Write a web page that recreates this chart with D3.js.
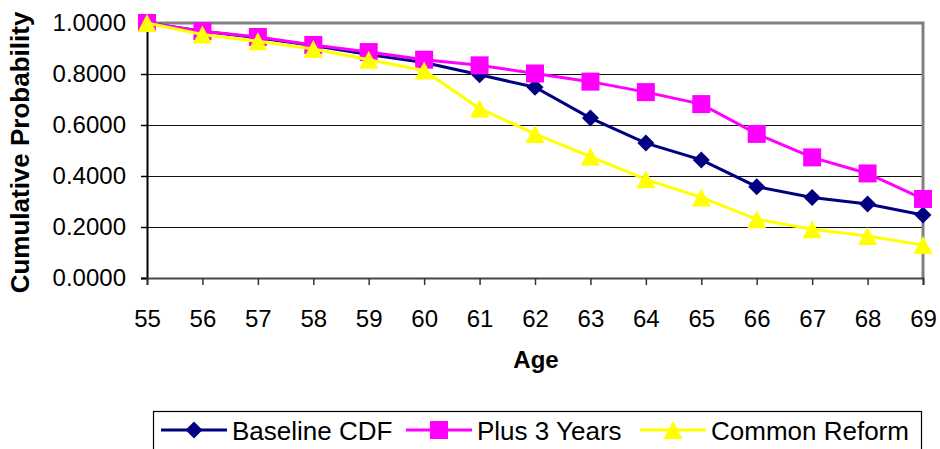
<!DOCTYPE html>
<html>
<head>
<meta charset="utf-8">
<script src="https://cdn.jsdelivr.net/npm/d3@7"></script>
<style>
  html, body { margin: 0; padding: 0; background: #fff; }
  svg { display: block; font-family: "Liberation Sans", Arial, sans-serif; }
</style>
</head>
<body>
<svg id="chart" width="940" height="449"></svg>
<script>
// Ages on the horizontal axis
const ages = [55, 56, 57, 58, 59, 60, 61, 62, 63, 64, 65, 66, 67, 68, 69];
// Cumulative probability by age for each scenario
const baselineCDF   = [1.000, 0.968, 0.942, 0.912, 0.876, 0.845, 0.797, 0.748, 0.627, 0.529, 0.463, 0.358, 0.316, 0.290, 0.247];
const plus3Years    = [1.000, 0.968, 0.945, 0.914, 0.886, 0.856, 0.834, 0.802, 0.770, 0.729, 0.682, 0.565, 0.473, 0.410, 0.310];
const commonReform  = [1.000, 0.955, 0.928, 0.898, 0.856, 0.814, 0.665, 0.565, 0.476, 0.387, 0.316, 0.230, 0.191, 0.165, 0.129];
const yTicks = [0, 0.2, 0.4, 0.6, 0.8, 1.0];

const series = [
  { name: "Baseline CDF",  values: baselineCDF,  color: "#000080", shape: "diamond" },
  { name: "Plus 3 Years",  values: plus3Years,   color: "#ff00ff", shape: "square" },
  { name: "Common Reform", values: commonReform, color: "#ffff00", shape: "triangle" }
];

const FONT = "Liberation Sans, Arial, sans-serif";
const svg = d3.select("#chart");
const plot = { left: 147, right: 923, top: 23, bottom: 278 };

const x = d3.scalePoint().domain(ages).range([plot.left, plot.right]);
const y = d3.scaleLinear().domain([0, 1]).range([plot.bottom, plot.top]);

// Horizontal gridlines
svg.append("g")
  .selectAll("line")
  .data(yTicks.filter(d => d > 0 && d < 1))
  .join("line")
  .attr("x1", plot.left).attr("x2", plot.right)
  .attr("y1", d => y(d) + 0.5).attr("y2", d => y(d) + 0.5)
  .attr("stroke", "#111").attr("stroke-width", 1.2);

// Plot frame: grey on top and right
svg.append("path")
  .attr("d", `M${plot.left},${plot.top} H${plot.right} V${plot.bottom}`)
  .attr("fill", "none").attr("stroke", "#808080").attr("stroke-width", 3);

// Y axis
const yAxis = svg.append("g")
  .attr("transform", `translate(${plot.left},0)`)
  .call(d3.axisLeft(y).tickValues(yTicks).tickFormat(d3.format(".4f")).tickSize(6).tickPadding(15));
yAxis.select(".domain").attr("stroke", "#000").attr("stroke-width", 2);
yAxis.selectAll(".tick line").attr("stroke", "#000").attr("stroke-width", 1.5);
yAxis.selectAll(".tick text").attr("font-size", 24).attr("fill", "#000").attr("font-family", FONT);

// X axis
const xAxis = svg.append("g")
  .attr("transform", `translate(0,${plot.bottom})`)
  .call(d3.axisBottom(x).tickSize(7).tickPadding(25));
xAxis.select(".domain").attr("stroke", "#444").attr("stroke-width", 2);
xAxis.selectAll(".tick line").attr("stroke", "#333").attr("stroke-width", 1.5);
xAxis.selectAll(".tick text").attr("font-size", 24).attr("fill", "#000").attr("font-family", FONT);

// Axis titles
svg.append("text")
  .attr("transform", `translate(29,${(plot.top + plot.bottom) / 2 + 2}) rotate(-90)`)
  .attr("text-anchor", "middle")
  .attr("font-size", 26).attr("font-weight", "bold")
  .text("Cumulative Probability");

svg.append("text")
  .attr("x", 536).attr("y", 368)
  .attr("text-anchor", "middle")
  .attr("font-size", 24).attr("font-weight", "bold")
  .text("Age");

// Marker shapes (centred on the data point)
const marker = {
  diamond:  () => "M0,-8.5L8.5,0L0,8.5L-8.5,0Z",
  square:   () => "M-9,-9H9V9H-9Z",
  triangle: () => "M0,-9L9.5,9H-9.5Z"
};

const line = d3.line().x((d, i) => x(ages[i])).y(d => y(d));

series.forEach(s => {
  const g = svg.append("g");
  g.append("path")
    .attr("d", line(s.values))
    .attr("fill", "none").attr("stroke", s.color).attr("stroke-width", 3);
  g.selectAll("path.m")
    .data(s.values)
    .join("path")
    .attr("class", "m")
    .attr("transform", (d, i) => `translate(${x(ages[i])},${y(d)})`)
    .attr("d", marker[s.shape]())
    .attr("fill", s.color);
});

// Legend
const legend = svg.append("g");
legend.append("rect")
  .attr("x", 153.5).attr("y", 411.5).attr("width", 768).attr("height", 50)
  .attr("fill", "#fff").attr("stroke", "#000").attr("stroke-width", 1.2);

const legendPos = [161, 406, 640];
series.forEach((s, i) => {
  const lx = legendPos[i], ly = 430;
  legend.append("line")
    .attr("x1", lx).attr("x2", lx + 66).attr("y1", ly).attr("y2", ly)
    .attr("stroke", s.color).attr("stroke-width", 3);
  legend.append("path")
    .attr("transform", `translate(${lx + 33},${ly})`)
    .attr("d", marker[s.shape]())
    .attr("fill", s.color);
  legend.append("text")
    .attr("x", lx + 71).attr("y", 440)
    .attr("font-size", 26)
    .text(s.name);
});
</script>
</body>
</html>
